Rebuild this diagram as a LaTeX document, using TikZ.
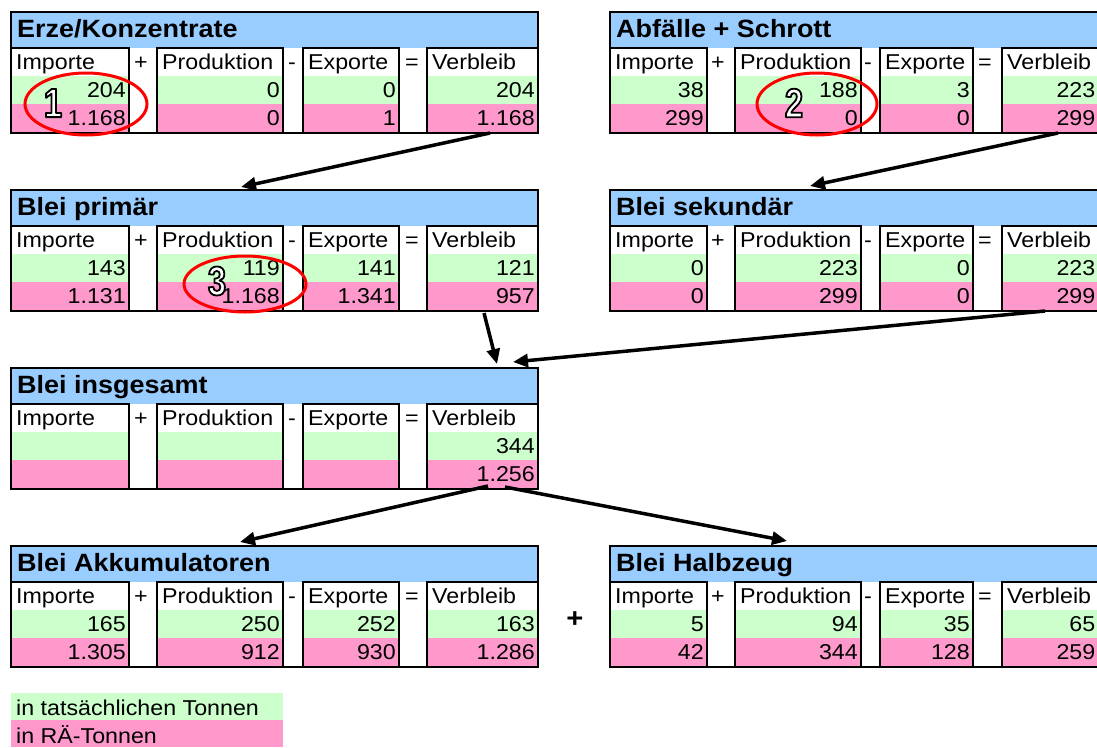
\documentclass[tikz,border=0pt]{standalone}
\usepackage{fontspec}
\setmainfont{Liberation Sans}[FakeStretch=1.08]
\newfontfamily\condfont{Liberation Sans}[FakeStretch=0.8]
\usetikzlibrary{arrows.meta}
\definecolor{hdrblue}{HTML}{99CCFF}
\definecolor{lgreen}{HTML}{CCFFCC}
\definecolor{lpink}{HTML}{FF99CC}
\tikzset{
  frame/.style={draw=black, line width=2.4pt},
  ttl/.style={anchor=base west, inner sep=0pt, font=\fontsize{25}{30}\selectfont\bfseries},
  lbl/.style={anchor=base west, inner sep=0pt, font=\fontsize{21.5}{25}\selectfont},
  num/.style={anchor=base east, inner sep=0pt, font=\fontsize{21.5}{25}\selectfont},
  opsym/.style={anchor=base, inner sep=0pt, font=\fontsize{21.5}{25}\selectfont},
  bigop/.style={inner sep=0pt, font=\fontsize{27}{30}\selectfont\bfseries},
  digit/.style={inner sep=0pt, font=\condfont\fontsize{41}{44}\selectfont\bfseries},
  flow/.style={line width=3.5pt, -{Triangle[length=15pt,width=13pt]}},
  redring/.style={draw=red, line width=3pt},
}
% #1 name, #2 top y, #3 left x, #4 right x, #5 title, #6 column list
\newcommand\tblk[6]{%
  \begin{scope}[shift={(0,#2)}]
    \fill[hdrblue] (#3,0) rectangle (#4,36);
    \node[ttl] (#1-t) at ({#3+6},25) {#5};
    \foreach \a/\b/\lab/\op/\ox/\g/\p [count=\i] in {#6} {
      \fill[white] (\a,36) rectangle (\b,64);
      \fill[lgreen] (\a,64) rectangle (\b,92);
      \fill[lpink] (\a,92) rectangle (\b,120);
      \draw[frame] (\a,36) rectangle (\b,121);
      \node[lbl] (#1-l\i) at ({\a+5},57) {\lab};
      \ifx\g\empty\else\node[num] (#1-g\i) at ({\b-3},85) {\g};\fi
      \ifx\p\empty\else\node[num] (#1-p\i) at ({\b-3},113) {\p};\fi
      \ifx\op\empty\else\node[opsym] (#1-o\i) at (\ox,57) {\op};\fi
    }
    \draw[frame] (#3,0) rectangle (#4,121);
  \end{scope}}
% outlined digit (white fill, black stroke): #1 name, #2 x, #3 y, #4 text
\newcommand\outdigit[4]{%
  \node[digit] (#1) at (#2,#3) {\color{white}\special{pdf:literal direct 0 G 1.8 w 1 j 2 Tr}#4\special{pdf:literal direct 0 Tr}};}
\begin{document}
\begin{tikzpicture}[x=1pt, y=-1pt]
\useasboundingbox (0,0) rectangle (1097,747);
\clip (0,0) rectangle (1097,747);
\fill[white] (0,0) rectangle (1097,747);

\tblk{erz}{12}{11}{538}{Erze/Konzentrate}{11/129/Importe/+/141/204/1.168, 157/283/Produktion/-/292/0/0, 303/399/Exporte/=/412/0/1, 427/538/Verbleib//0/204/1.168}
\tblk{abf}{12}{610}{1098.5}{Abfälle + Schrott}{610/707/Importe/+/718/38/299, 735/861/Produktion/-/868/188/0, 880/973/Exporte/=/985/3/0, 1002/1098.5/Verbleib//0/223/299}
\tblk{pri}{190}{11}{538}{Blei primär}{11/129/Importe/+/141/143/1.131, 157/283/Produktion/-/292/119/1.168, 303/399/Exporte/=/412/141/1.341, 427/538/Verbleib//0/121/957}
\tblk{sek}{190}{610}{1098.5}{Blei sekundär}{610/707/Importe/+/718/0/0, 735/861/Produktion/-/868/223/299, 880/973/Exporte/=/985/0/0, 1002/1098.5/Verbleib//0/223/299}
\tblk{ins}{368}{11}{538}{Blei insgesamt}{11/129/Importe/+/141//, 157/283/Produktion/-/292//, 303/399/Exporte/=/412//, 427/538/Verbleib//0/344/1.256}
\tblk{akk}{546}{11}{538}{Blei Akkumulatoren}{11/129/Importe/+/141/165/1.305, 157/283/Produktion/-/292/250/912, 303/399/Exporte/=/412/252/930, 427/538/Verbleib//0/163/1.286}
\tblk{hal}{546}{610}{1098.5}{Blei Halbzeug}{610/707/Importe/+/718/5/42, 735/861/Produktion/-/868/94/344, 880/973/Exporte/=/985/35/128, 1002/1098.5/Verbleib//0/65/259}

\node[bigop] (plus) at (575,620) {+};

% legend
\fill[lgreen] (11,693) rectangle (283,720);
\fill[lpink] (11,720) rectangle (283,747);
\node[lbl] (leg1) at (16,715) {in tatsächlichen Tonnen};
\node[lbl] (leg2) at (16,743) {in RÄ-Tonnen};

% arrows
\coordinate (a1s) at (490,133); \coordinate (a1e) at (241,187);
\coordinate (a2s) at (1058,133); \coordinate (a2e) at (810,186);
\coordinate (a3s) at (484,313); \coordinate (a3e) at (497,364);
\coordinate (a4s) at (1045,311); \coordinate (a4e) at (513,362);
\coordinate (a5s) at (488,486); \coordinate (a5e) at (240,542);
\coordinate (a6s) at (505,487); \coordinate (a6e) at (787,541);
\draw[flow] (a1s) -- (a1e);
\draw[flow] (a2s) -- (a2e);
\draw[flow] (a3s) -- (a3e);
\draw[flow] (a4s) -- (a4e);
\draw[flow] (a5s) -- (a5e);
\draw[flow] (a6s) -- (a6e);

% red rings with numbers
\draw[redring] (86,104) ellipse [x radius=61pt, y radius=31pt];
\draw[redring] (817,104) ellipse [x radius=60pt, y radius=31pt];
\draw[redring] (245,284) ellipse [x radius=61pt, y radius=28pt];
\outdigit{n1}{53}{103}{1}
\outdigit{n2}{794}{103}{2}
\outdigit{n3}{217}{281}{3}
\end{tikzpicture}
\end{document}
